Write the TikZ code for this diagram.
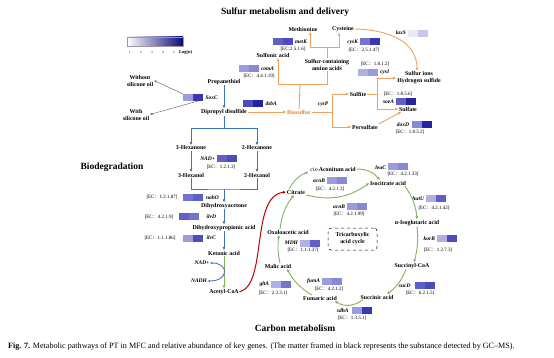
\documentclass[tikz,border=0pt]{standalone}
\usepackage{fontspec}
\setmainfont{Liberation Serif}
\newfontfamily\cjk{Noto Sans CJK SC}
\usetikzlibrary{positioning,arrows.meta,shapes}

\definecolor{sulor}{HTML}{F2A15F}
\definecolor{bioor}{HTML}{E8832E}
\definecolor{degblue}{HTML}{3D73BA}
\definecolor{tcagreen}{HTML}{82B35C}
\definecolor{acred}{HTML}{C00000}
\definecolor{legnavy}{HTML}{0C0C7A}
\definecolor{s1}{HTML}{E8E8F6}
\definecolor{s2}{HTML}{C8C8EC}
\definecolor{s3}{HTML}{B0B0E4}
\definecolor{s4}{HTML}{9C9CDC}
\definecolor{s5}{HTML}{8888D4}
\definecolor{s6}{HTML}{7474CC}
\definecolor{s7}{HTML}{6060C4}
\definecolor{s8}{HTML}{4C4CBC}
\definecolor{s9}{HTML}{3838B0}
\definecolor{s10}{HTML}{2424A0}

\newcommand\ec[1]{[EC{\cjk ：}#1]}
% two heat cells of one gene, centred at (x,y)
\newcommand\genepair[5]{%
  \node (#1a) [cell, fill=#4, anchor=east] at (#2,#3) {};
  \node (#1b) [cell, fill=#5, right=0pt of #1a] {};}

\begin{document}
\begin{tikzpicture}[x=1pt, y=-1pt,
  lbl/.style={font=\fontsize{5.9}{7}\selectfont\bfseries, inner sep=0.6pt, align=center},
  eclbl/.style={font=\fontsize{5}{6}\selectfont, inner sep=0},
  gene/.style={font=\fontsize{5.5}{6}\selectfont\bfseries\itshape, inner sep=0.3pt},
  cell/.style={minimum width=10pt, minimum height=7pt, inner sep=0, outer sep=0},
  heading/.style={font=\fontsize{9.5}{11}\selectfont\bfseries, inner sep=0},
  tip/.style={-{Latex[length=3.2pt,width=3pt]}},
  orline/.style={draw=sulor, line width=0.9pt},
  orarr/.style={orline, tip},
  bluline/.style={draw=degblue, line width=0.9pt},
  bluarr/.style={bluline, tip},
  grnarr/.style={draw=tcagreen, line width=0.9pt, tip},
  redarr/.style={draw=acred, line width=1pt, tip},
  grayarr/.style={draw=black!65, line width=0.4pt, -{Latex[length=2.5pt,width=2.2pt]}}]
  \path[use as bounding box, fill=white] (0,0) rectangle (554,358);

  % legend
  \shade[left color=white, right color=legnavy, draw=black!40, line width=0.3pt] (127,37) rectangle (183,46);
  \foreach \i [count=\k] in {130,141,152,163,174}
    \node (tick\k) [font=\fontsize{3.2}{3.2}\selectfont, inner sep=0] at (\i,52) {\k};
  \node (logn) [font=\fontsize{4.5}{5}\selectfont\bfseries, inner sep=0, anchor=west] at (179,52) {Log(n)};

  % sulfur metabolism
  \node (stitle) [heading] at (285,12) {Sulfur metabolism and delivery};
  \node (meth) [lbl] at (303,29) {Methionine};
  \node (cys) [lbl] at (343,29) {Cysteine};
  \node (sulfon) [lbl] at (273,55) {Sulfonic acid};
  \node (scaa) [lbl] at (327,64.5) {Sulfur-containing\\amino acids};
  \node (propt) [lbl] at (224,82) {Propanethiol};
  \node (dips) [lbl] at (224,112) {Dipropyl disulfide};
  \node (bios) [lbl, text=bioor] at (299,112) {Biosulfur};
  \node (sulfite) [lbl] at (358,94) {Sulfite};
  \node (persul) [lbl] at (365,127) {Persulfate};
  \node (sions) [lbl] at (419,78) {Sulfur ions\\Hydrogen sulfide};
  \node (sulfate) [lbl] at (408,109) {Sulfate};
  \node (woso) [lbl] at (140,80.5) {Without\\silicone oil};
  \node (wso) [lbl] at (136,114.5) {With\\silicone oil};

  \genepair{metK}{282.5}{41.5}{s7}{s8}
  \node (metKl) [gene, anchor=west] at (294.5,42) {metK};
  \node (metKe) [eclbl] at (293,49) {[EC:2.5.1.6]};
  \genepair{cysK}{370}{41.5}{s6}{s9}
  \node (cysKl) [gene, anchor=east] at (358.5,42) {cysK};
  \node (cysKe) [eclbl] at (364,50) {\ec{2.5.1.47}};
  \genepair{laxS}{418}{33.5}{s1}{s2}
  \node (laxSl) [gene, anchor=east] at (406.5,33) {laxS};
  \genepair{cysI}{368}{72.5}{s3}{s4}
  \node (cysIl) [gene, anchor=west] at (379.5,72.5) {cysI};
  \node (cysIe) [eclbl] at (375,64) {\ec{1.8.1.2}};
  \genepair{soeA}{406}{101.5}{s7}{s10}
  \node (soeAl) [gene, anchor=east] at (394.5,102) {soeA};
  \node (soeAe) [eclbl] at (398,94) {\ec{1.8.5.6}};
  \genepair{doxD}{421.5}{125}{s5}{s10}
  \node (doxDl) [gene, anchor=east] at (409.5,125) {doxD};
  \node (doxDe) [eclbl] at (410,132) {\ec{1.8.5.2}};
  \genepair{comA}{249}{69}{s4}{s5}
  \node (comAl) [gene, anchor=west] at (260.5,68.5) {comA};
  \node (comAe) [eclbl] at (259,76) {\ec{4.4.1.19}};
  \genepair{SoxC}{193}{97.5}{s4}{s9}
  \node (SoxCl) [gene, anchor=west] at (205,97.5) {SoxC};
  \genepair{dsbA}{253}{103.5}{s8}{s10}
  \node (dsbAl) [gene, anchor=west] at (265,103.5) {dsbA};
  \node (cysPl) [gene] at (323,104) {cysP};

  \draw[orarr] (dips) -- (bios);
  \coordinate (bjoin) at (300,84);
  \draw[orline] (bios) -- (bjoin);
  \draw[orarr] (bjoin) -| ([xshift=5pt]sulfon.south);
  \draw[orline] (bjoin) -| (scaa.south);
  \coordinate (sjoin) at (327,47);
  \draw[orline] (scaa) -- (sjoin);
  \draw[orarr] (sjoin) -| ([xshift=7pt]meth.south);
  \draw[orarr] (sjoin) -| ([xshift=-4pt]cys.south);
  \draw[orarr] (cys.east) .. controls (395,30) and (417,45) .. ([xshift=-2pt]sions.north);
  \coordinate (pjoin) at (332,112);
  \draw[orline] (bios) -- (pjoin);
  \draw[orarr] (pjoin) |- (sulfite);
  \draw[orarr] (pjoin) |- (persul);
  \coordinate (fjoin) at (377,94);
  \draw[orline] (sulfite) -- (fjoin);
  \draw[orarr] (fjoin) |- (sions);
  \draw[orarr] (fjoin) |- (sulfate);
  \draw[orarr] (persul.north east) -- ([xshift=3pt]sulfate.south west);

  \draw[grayarr] (SoxCa.north west) -- (woso.east);
  \draw[grayarr] (SoxCb.south) -- (wso.east);

  % biodegradation
  \node (biodeg) [heading] at (112,167) {Biodegradation};
  \node (hex3) [lbl] at (191,148) {3-Hexanone};
  \node (hex2) [lbl] at (257,148) {2-Hexanone};
  \node (hol3) [lbl] at (191,175) {3-Hexanol};
  \node (hol2) [lbl] at (257,175) {2-Hexanol};
  \node (dha) [lbl] at (224,206) {Dihydroxyacetone};
  \node (dhp) [lbl] at (224,228) {Dihydroxypropionic acid};
  \node (keto) [lbl] at (224,253) {Ketonic acid};
  \node (acoa) [lbl] at (224,292) {Acetyl-CoA};
  \node (nadp) [gene] at (202,263) {NAD+};
  \node (nadh) [gene] at (199,281) {NADH};

  \genepair{ald}{227}{159}{s7}{s8}
  \node (aldl) [gene, anchor=east] at (215.5,159) {NAD+};
  \node (alde) [eclbl] at (221,167) {\ec{1.2.1.3}};
  \genepair{nahO}{193}{197.5}{s6}{s7}
  \node (nahOl) [gene, anchor=west] at (205.5,197.5) {nahO};
  \node (nahOe) [eclbl] at (162,197.5) {\ec{1.2.1.87}};
  \genepair{ilvD}{189}{216.5}{s7}{s6}
  \node (ilvDl) [gene, anchor=west] at (206,216.5) {ilvD};
  \node (ilvDe) [eclbl] at (159,217) {\ec{4.2.1.9}};
  \genepair{ilvC}{192.5}{238}{s4}{s8}
  \node (ilvCl) [gene, anchor=west] at (206,238) {ilvC};
  \node (ilvCe) [eclbl] at (160,238) {\ec{1.1.1.86}};

  \draw[bluarr] (propt) -- (dips);
  \coordinate (djoin) at (224,128);
  \draw[bluline] (dips) -- (djoin);
  \draw[bluarr] (djoin) -| (hex3);
  \draw[bluarr] (djoin) -| (hex2);
  \draw[bluarr] (hex3) -- (hol3);
  \draw[bluarr] (hex2) -- (hol2);
  \coordinate (hjoin) at (224,189);
  \draw[bluline] (hol3) |- (hjoin) -| (hol2);
  \draw[bluarr] (hjoin) -- (dha);
  \draw[bluarr] (dha) -- (dhp);
  \draw[bluarr] (dhp) -- (keto);
  \draw[grnarr] (keto) -- (acoa);
  \draw[draw=degblue, line width=0.8pt, {Latex[length=2.6pt,width=2.4pt]}-{Latex[length=2.6pt,width=2.4pt]}]
    (nadp.east) .. controls (229,263) and (229,281) .. (nadh.east);

  % tricarboxylic acid cycle
  \node (citr) [lbl] at (296,192) {Citrate};
  \node (cisa) [lbl] at (333,169) {{\mdseries\itshape cis}-Aconitum acid};
  \node (iso) [lbl] at (388,183) {Isocitrate acid};
  \node (akg) [lbl] at (417,223) {α-Isoglutaric acid};
  \node (scoa) [lbl] at (412,266) {Succinyl-CoA};
  \node (succ) [lbl] at (377,297) {Succinic acid};
  \node (fum) [lbl] at (320,298) {Fumaric acid};
  \node (mal) [lbl] at (278,266) {Malic acid};
  \node (oxa) [lbl] at (288,232) {Oxaloacetic acid};
  \node (tca) [lbl, draw, dashed, rounded corners=3pt, line width=0.5pt,
    minimum width=49pt, minimum height=22pt] at (352.5,239) {Tricarboxylic\\acid cycle};
  \node (ctitle) [heading] at (295,328) {Carbon metabolism};

  \genepair{acnBu}{337}{181}{s4}{s5}
  \node (acnBul) [gene, anchor=east] at (325.5,180.5) {acnB};
  \node (acnBue) [eclbl] at (330,189) {\ec{4.2.1.3}};
  \genepair{leuC}{398}{167}{s4}{s5}
  \node (leuCl) [gene, anchor=east] at (386.5,167.5) {leuC};
  \node (leuCe) [eclbl] at (403,174.5) {\ec{4.2.1.33}};
  \genepair{acnBl}{357}{207}{s4}{s5}
  \node (acnBll) [gene, anchor=east] at (345.5,207) {acnB};
  \node (acnBle) [eclbl] at (349,214.5) {\ec{4.2.1.99}};
  \genepair{hutU}{436}{198.5}{s3}{s7}
  \node (hutUl) [gene, anchor=east] at (424.5,199) {hutU};
  \node (hutUe) [eclbl] at (434,208) {\ec{4.2.1.42}};
  \genepair{korB}{447}{238.5}{s3}{s8}
  \node (korBl) [gene, anchor=east] at (435.5,238.5) {korB};
  \node (korBe) [eclbl] at (438,250) {\ec{1.2.7.3}};
  \genepair{sucD}{424.5}{285.5}{s7}{s8}
  \node (sucDl) [gene, anchor=east] at (411,286) {sucD};
  \node (sucDe) [eclbl] at (420,293) {\ec{6.2.1.5}};
  \genepair{sdhA}{362}{310}{s4}{s9}
  \node (sdhAl) [gene, anchor=east] at (349,310.5) {sdhA};
  \node (sdhAe) [eclbl] at (352,318) {\ec{1.3.5.1}};
  \genepair{fumA}{332}{281}{s4}{s5}
  \node (fumAl) [gene, anchor=east] at (320.5,281) {fumA};
  \node (fumAe) [eclbl] at (329,289) {\ec{4.2.1.2}};
  \genepair{MDH}{310}{243}{s3}{s7}
  \node (MDHl) [gene, anchor=east] at (298.5,242.5) {MDH};
  \node (MDHe) [eclbl] at (303,250.5) {\ec{1.1.1.37}};
  \genepair{gltA}{281}{284.5}{s3}{s6}
  \node (gltAl) [gene, anchor=east] at (269.5,284) {gltA};
  \node (gltAe) [eclbl] at (273,293) {\ec{2.3.3.1}};

  \draw[redarr] (acoa.east) .. controls (268,284) and (250,196) .. (citr.west);
  \draw[grnarr] ([xshift=-7pt]citr.north) to[bend left=20] ([xshift=-1pt]cisa.south west);
  \draw[grnarr] (cisa.east) to[bend left=25] ([xshift=-8pt]iso.north);
  \draw[grnarr] (citr.south east) to[bend right=25] (iso.west);
  \draw[grnarr] ([xshift=-2pt]iso.south east) to[bend left=15] (akg.north);
  \draw[grnarr] (akg.south) to[bend left=10] ([xshift=2pt]scoa.north);
  \draw[grnarr] ([xshift=-6pt]scoa.south) to[bend left=15] ([xshift=10pt]succ.north);
  \draw[grnarr] ([xshift=3pt]succ.south west) to[bend left=35] ([xshift=-3pt]fum.south east);
  \draw[grnarr] ([xshift=-8pt]fum.north) to[bend left=15] ([xshift=-5pt]mal.south east);
  \draw[grnarr] ([xshift=2pt]mal.north) to[bend left=10] ([xshift=-9pt]oxa.south);
  \draw[grnarr] ([xshift=-8pt]oxa.north) to[bend left=15] ([xshift=-2pt]citr.south);

  % caption
  \node (capt) [anchor=west, font=\fontsize{8.1}{9}\selectfont, inner sep=0] at (8,347)
    {\textbf{Fig. 7.} Metabolic pathways of PT in MFC and relative abundance of key genes. (The matter framed in black represents the substance detected by GC--MS).};
\end{tikzpicture}
\end{document}
